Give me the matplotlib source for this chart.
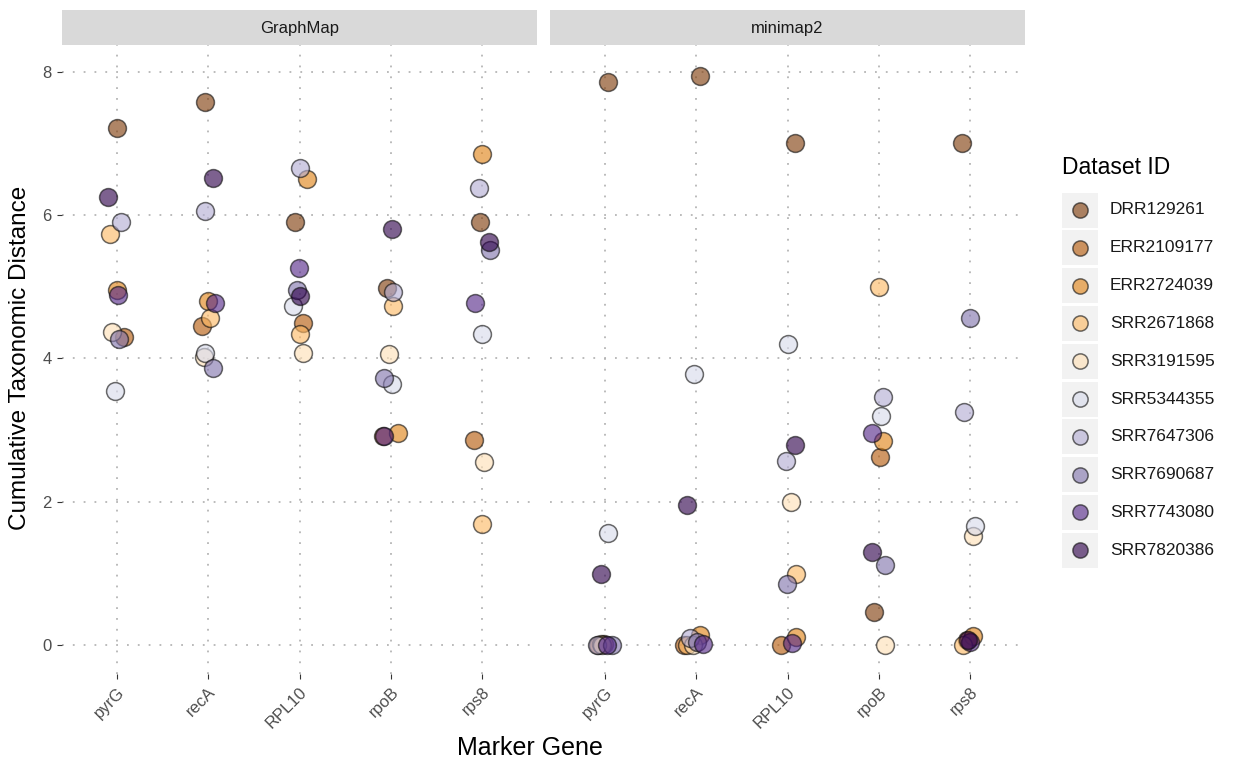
import matplotlib
matplotlib.use("Agg")
import matplotlib.pyplot as plt
from matplotlib.patches import Rectangle

plt.rcParams['font.family'] = ['Liberation Sans', 'DejaVu Sans']

# data
genes = ['pyrG', 'recA', 'RPL10', 'rpoB', 'rps8']
datasets = ['DRR129261', 'ERR2109177', 'ERR2724039', 'SRR2671868', 'SRR3191595',
            'SRR5344355', 'SRR7647306', 'SRR7690687', 'SRR7743080', 'SRR7820386']
tools = ['GraphMap', 'minimap2']

# values[gene] -> one value per dataset (in datasets order)
graphmap_values = [
    [7.22, 4.30, 4.95, 5.73, 4.37, 3.55, 5.90, 4.27, 4.88, 6.25],
    [7.58, 4.46, 4.80, 4.57, 4.02, 4.07, 6.06, 3.87, 4.77, 6.52],
    [5.90, 4.50, 6.50, 4.34, 4.08, 4.73, 6.66, 4.95, 5.26, 4.87],
    [4.99, 2.92, 2.96, 4.73, 4.06, 3.65, 4.93, 3.73, 2.92, 5.80],
    [5.90, 2.87, 6.85, 1.69, 2.56, 4.34, 6.38, 5.51, 4.78, 5.63],
]
minimap2_values = [
    [7.86, 0.00, 0.02, 0.02, 0.00, 1.57, 0.00, 0.00, 0.00, 1.00],
    [7.94, 0.00, 0.15, 0.00, 0.00, 3.79, 0.10, 0.05, 0.02, 1.95],
    [7.00, 0.00, 0.12, 1.00, 2.00, 4.20, 2.57, 0.85, 0.03, 2.80],
    [0.46, 2.62, 2.85, 5.00, 0.00, 3.20, 3.47, 1.12, 2.96, 1.30],
    [7.00, 0.08, 0.13, 0.00, 1.53, 1.67, 3.25, 4.57, 0.05, 0.08],
]
# horizontal jitter seen in the picture (category units)
graphmap_jitter = [
    [0.00, 0.08, 0.00, -0.08, -0.05, -0.02, 0.05, 0.02, 0.01, -0.10],
    [-0.03, -0.07, 0.00, 0.02, -0.05, -0.03, -0.03, 0.05, 0.07, 0.05],
    [-0.05, 0.04, 0.08, 0.00, 0.04, -0.07, 0.01, -0.03, -0.01, 0.01],
    [-0.04, -0.09, 0.08, 0.02, -0.02, 0.01, 0.02, -0.07, -0.07, 0.01],
    [-0.02, -0.09, 0.00, 0.00, 0.02, 0.00, -0.03, 0.09, -0.08, 0.07],
]
minimap2_jitter = [
    [0.04, -0.07, -0.01, -0.04, -0.03, 0.03, -0.09, 0.08, 0.02, -0.04],
    [0.04, -0.13, 0.04, -0.10, -0.03, -0.02, -0.07, 0.01, 0.07, -0.10],
    [0.08, -0.07, 0.09, 0.09, 0.04, 0.01, -0.02, -0.01, 0.05, 0.08],
    [-0.05, 0.01, 0.04, 0.00, 0.07, 0.02, 0.05, 0.07, -0.07, -0.08],
    [-0.09, -0.04, 0.03, -0.08, 0.03, 0.05, -0.07, 0.00, 0.00, -0.02],
]

colors = ['#7f3b08', '#b35806', '#e08214', '#fdb863', '#fee0b6',
          '#d8daeb', '#b2abd2', '#8073ac', '#542788', '#2d004b']
ALPHA = 0.62

W, H = 1234, 768
fig = plt.figure(figsize=(W / 100, H / 100), dpi=100)

def fx(px):
    return px / W

def fy(py):
    return 1 - py / H

panel_x = [(62, 537), (550, 1025)]
top, bottom = 43, 674
all_values = [graphmap_values, minimap2_values]
all_jitter = [graphmap_jitter, minimap2_jitter]

for t, tool in enumerate(tools):
    x0, x1 = panel_x[t]
    ax = fig.add_axes([fx(x0), fy(bottom), fx(x1 - x0), (bottom - top) / H])
    ax.set_xlim(0.4, 5.6)
    ax.set_ylim(-0.4, 8.4)
    for g in range(len(genes)):
        for d in range(len(datasets)):
            ax.scatter(g + 1 + all_jitter[t][g][d], all_values[t][g][d], s=165,
                       color=colors[d], alpha=ALPHA, edgecolors='#111111',
                       linewidths=1.1, zorder=3)
    ax.set_xticks(range(1, 6))
    ax.set_xticklabels(genes, rotation=45, ha='right', rotation_mode='anchor',
                       fontsize=12, color='#4d4d4d')
    ax.set_yticks([0, 2, 4, 6, 8])
    if t == 0:
        ax.set_yticklabels(['0', '2', '4', '6', '8'], fontsize=12, color='#4d4d4d')
        ax.tick_params(axis='y', length=3.5, color='#333333', pad=4)
    else:
        ax.set_yticklabels([])
        ax.tick_params(axis='y', length=0)
    ax.tick_params(axis='x', length=3.5, color='#333333', pad=4)
    ax.grid(True, color='#b5b5b5', linestyle=(0, (1, 5)), linewidth=1.3)
    ax.set_axisbelow(True)
    for sp in ax.spines.values():
        sp.set_visible(False)

    # facet strip
    fig.patches.append(Rectangle((fx(x0), fy(45)), fx(x1 - x0), (45 - 10) / H,
                                 transform=fig.transFigure, facecolor='#d9d9d9',
                                 edgecolor='none'))
    fig.text(fx((x0 + x1) / 2), fy(28), tool, ha='center', va='center',
             fontsize=12, color='#1a1a1a')

fig.text(fx(530), fy(748), 'Marker Gene', ha='center', va='center', fontsize=18)
fig.text(fx(20), fy(358), 'Cumulative Taxonomic Distance', ha='center', va='center',
         rotation=90, fontsize=17.5)

# legend
fig.text(fx(1062), fy(168), 'Dataset ID', ha='left', va='center', fontsize=16.5)
leg = fig.add_axes([0, 0, 1, 1], facecolor='none')
leg.set_xlim(0, W)
leg.set_ylim(H, 0)
leg.axis('off')
for d, name in enumerate(datasets):
    cy = 210 + d * 37.8
    leg.add_patch(Rectangle((1062, cy - 17.5), 36, 35, facecolor='#f2f2f2', edgecolor='none'))
    leg.scatter(1080, cy, s=120, color=colors[d], alpha=ALPHA, edgecolors='#111111',
                linewidths=1.1)
    leg.text(1110, cy, name, ha='left', va='center', fontsize=12.5, color='#1a1a1a')

fig.savefig('out.png', dpi=100)
